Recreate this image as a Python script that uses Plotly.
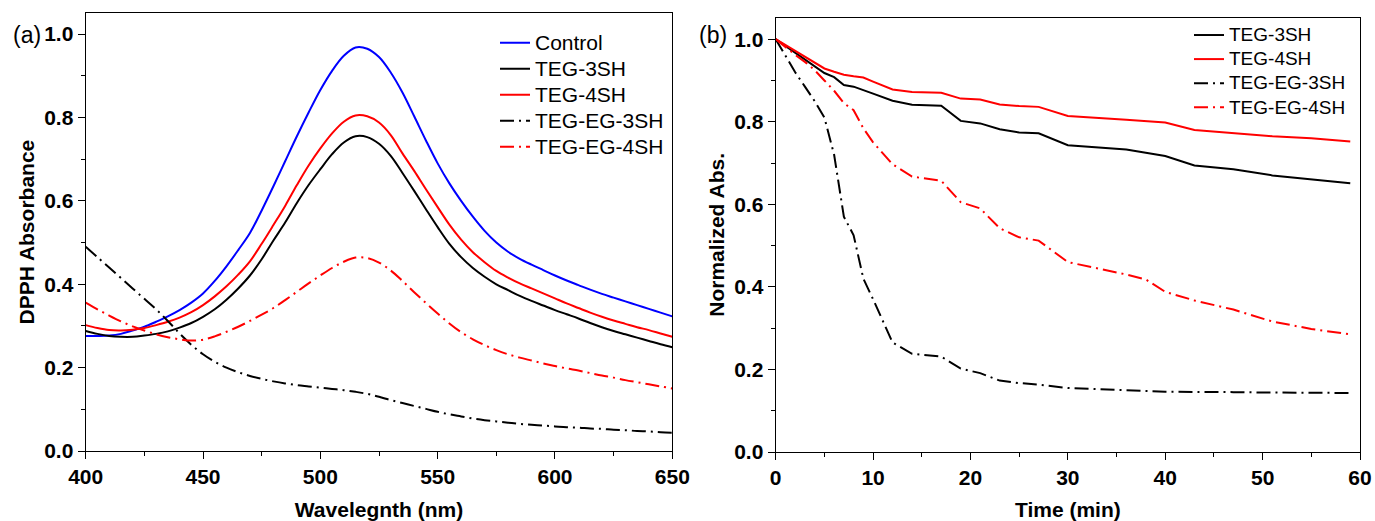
import plotly.graph_objects as go

# ---------------- data: panel (a) ----------------
wavelength = list(range(400, 651, 5))
control = [0.276, 0.276, 0.277, 0.281, 0.289, 0.298, 0.310, 0.323, 0.338, 0.356,
           0.378, 0.408, 0.443, 0.482, 0.523, 0.577, 0.635, 0.695, 0.755, 0.812,
           0.866, 0.912, 0.948, 0.968, 0.965, 0.945, 0.908, 0.860, 0.803, 0.745,
           0.690, 0.642, 0.600, 0.562, 0.528, 0.500, 0.478, 0.461, 0.447, 0.434,
           0.421, 0.409, 0.398, 0.387, 0.377, 0.368, 0.359, 0.350, 0.341, 0.332,
           0.323]
teg_3sh_a = [0.288, 0.281, 0.276, 0.274, 0.274, 0.277, 0.281, 0.287, 0.296, 0.307,
             0.322, 0.340, 0.363, 0.390, 0.421, 0.460, 0.505, 0.548, 0.595, 0.638,
             0.676, 0.712, 0.740, 0.755, 0.753, 0.737, 0.708, 0.667, 0.624, 0.580,
             0.537, 0.497, 0.465, 0.439, 0.418, 0.400, 0.386, 0.372, 0.360, 0.349,
             0.338, 0.328, 0.318, 0.307, 0.297, 0.288, 0.280, 0.272, 0.264, 0.256,
             0.249]
teg_4sh_a = [0.302, 0.295, 0.290, 0.289, 0.291, 0.295, 0.302, 0.310, 0.320, 0.333,
             0.350, 0.371, 0.395, 0.423, 0.455, 0.497, 0.542, 0.588, 0.638, 0.685,
             0.726, 0.762, 0.790, 0.805, 0.803, 0.788, 0.758, 0.714, 0.672, 0.628,
             0.585, 0.543, 0.507, 0.477, 0.453, 0.432, 0.416, 0.402, 0.390, 0.378,
             0.366, 0.354, 0.343, 0.332, 0.322, 0.313, 0.305, 0.297, 0.290, 0.282,
             0.274]
teg_eg_3sh_a = [0.490, 0.465, 0.440, 0.415, 0.390, 0.365, 0.340, 0.312, 0.282, 0.255,
                0.232, 0.214, 0.200, 0.189, 0.180, 0.173, 0.167, 0.162, 0.158, 0.155,
                0.152, 0.149, 0.146, 0.142, 0.137, 0.130, 0.122, 0.115, 0.108, 0.101,
                0.094, 0.088, 0.083, 0.078, 0.074, 0.071, 0.068, 0.065, 0.063, 0.061,
                0.059, 0.057, 0.056, 0.054, 0.053, 0.051, 0.050, 0.048, 0.047, 0.045,
                0.044]
teg_eg_4sh_a = [0.356, 0.340, 0.325, 0.311, 0.299, 0.289, 0.280, 0.273, 0.268, 0.265,
                0.267, 0.275, 0.286, 0.298, 0.312, 0.327, 0.343, 0.362, 0.382, 0.402,
                0.421, 0.439, 0.454, 0.464, 0.463, 0.452, 0.433, 0.408, 0.381, 0.355,
                0.330, 0.306, 0.285, 0.268, 0.254, 0.242, 0.232, 0.224, 0.217, 0.210,
                0.204, 0.198, 0.193, 0.187, 0.181, 0.176, 0.170, 0.165, 0.160, 0.155,
                0.150]

# ---------------- data: panel (b) ----------------
time_min = [0, 1, 2, 3, 4, 5, 6, 7, 8, 9, 10, 12, 14, 17, 19, 21, 23, 25, 27, 30,
            36, 38, 40, 43, 47, 51, 55, 59]
teg_3sh_b = [1.000, 0.984, 0.968, 0.951, 0.934, 0.918, 0.908, 0.889, 0.885, 0.876,
             0.868, 0.851, 0.841, 0.839, 0.802, 0.796, 0.782, 0.774, 0.772, 0.743,
             0.733, 0.725, 0.717, 0.694, 0.685, 0.670, 0.661, 0.651]
teg_4sh_b = [1.000, 0.986, 0.972, 0.957, 0.943, 0.929, 0.921, 0.914, 0.910, 0.907,
             0.897, 0.878, 0.872, 0.870, 0.856, 0.854, 0.842, 0.838, 0.836, 0.814,
             0.805, 0.801, 0.798, 0.780, 0.773, 0.765, 0.760, 0.752]
teg_eg_3sh_b = [1.000, 0.960, 0.920, 0.885, 0.850, 0.810, 0.720, 0.570, 0.525, 0.420,
                0.370, 0.265, 0.238, 0.231, 0.202, 0.191, 0.173, 0.167, 0.163, 0.155,
                0.151, 0.148, 0.146, 0.146, 0.145, 0.144, 0.143, 0.143]
teg_eg_4sh_b = [1.000, 0.980, 0.962, 0.945, 0.925, 0.900, 0.875, 0.845, 0.828, 0.784,
                0.750, 0.697, 0.667, 0.657, 0.605, 0.590, 0.542, 0.520, 0.512, 0.460,
                0.430, 0.418, 0.388, 0.367, 0.345, 0.316, 0.298, 0.285]

W, H = 1375, 521
FONT = "Arial, Liberation Sans, sans-serif"
DASHDOT = "14px,5px,2px,5px"

def px_x(p):
    return p / W

def px_y(p):
    return (H - p) / H

def legend_label(text, size):
    return f"<span style='font-size:{size}px'>{text}</span>"

fig = go.Figure()

left_specs = [
    ("Control", control, "#0000ff", "solid"),
    ("TEG-3SH", teg_3sh_a, "#000000", "solid"),
    ("TEG-4SH", teg_4sh_a, "#ff0000", "solid"),
    ("TEG-EG-3SH", teg_eg_3sh_a, "#000000", DASHDOT),
    ("TEG-EG-4SH", teg_eg_4sh_a, "#ff0000", DASHDOT),
]
for name, ys, color, dash in left_specs:
    fig.add_trace(go.Scatter(
        x=wavelength, y=ys, name=legend_label(name, 21), mode="lines",
        line=dict(color=color, width=2, dash=dash, shape="spline", smoothing=1.0),
        xaxis="x", yaxis="y", legend="legend"))

right_specs = [
    ("TEG-3SH", teg_3sh_b, "#000000", "solid"),
    ("TEG-4SH", teg_4sh_b, "#ff0000", "solid"),
    ("TEG-EG-3SH", teg_eg_3sh_b, "#000000", DASHDOT),
    ("TEG-EG-4SH", teg_eg_4sh_b, "#ff0000", DASHDOT),
]
for name, ys, color, dash in right_specs:
    fig.add_trace(go.Scatter(
        x=time_min, y=ys, name=legend_label(name, 19), mode="lines",
        line=dict(color=color, width=2, dash=dash),
        xaxis="x2", yaxis="y2", legend="legend2"))

TICK = 21
TITLE = 21
tickfont = dict(family=FONT, size=TICK, color="black", weight="bold")
titlefont = dict(family=FONT, size=TITLE, color="black", weight="bold")
minor_common = dict(ticks="outside", ticklen=4, tickwidth=1.3, tickcolor="black",
                    showgrid=False)

def axis_common(**kw):
    d = dict(showline=True, linecolor="black", linewidth=1.3, mirror=True,
             ticks="outside", ticklen=7, tickwidth=1.3, tickcolor="black",
             showgrid=False, zeroline=False, tickfont=tickfont, automargin=False)
    d.update(kw)
    return d

fig.update_layout(
    template="none",
    width=W, height=H, autosize=False,
    margin=dict(l=0, r=0, t=0, b=0, pad=0),
    paper_bgcolor="white", plot_bgcolor="white",
    font=dict(family=FONT, color="black"),
    xaxis=axis_common(domain=[px_x(85.7), px_x(672.3)], anchor="y",
                      range=[400, 650], tick0=400, dtick=50,
                      minor=dict(dtick=25, **minor_common),
                      title=dict(text="Wavelegnth (nm)", font=titlefont, standoff=14)),
    yaxis=axis_common(domain=[px_y(451), px_y(13.3)], anchor="x",
                      range=[0, 1.05], tick0=0, dtick=0.2, tickformat=".1f",
                      minor=dict(dtick=0.1, **minor_common),
                      title=dict(text="DPPH Absorbance", font=titlefont, standoff=3)),
    xaxis2=axis_common(domain=[px_x(775.7), px_x(1360)], anchor="y2",
                       range=[0, 60], tick0=0, dtick=10,
                       minor=dict(dtick=5, **minor_common),
                       title=dict(text="Time (min)", font=titlefont, standoff=14)),
    yaxis2=axis_common(domain=[px_y(452), px_y(17.7)], anchor="x2",
                       range=[0, 1.052], tick0=0, dtick=0.2, tickformat=".1f",
                       minor=dict(dtick=0.1, **minor_common),
                       title=dict(text="Normalized Abs.", font=titlefont, standoff=3)),
    legend=dict(x=px_x(495), y=px_y(24.7), xanchor="left", yanchor="top",
                bgcolor="rgba(0,0,0,0)", borderwidth=0,
                font=dict(family=FONT, size=17.7, color="black"),
                tracegroupgap=0),
    legend2=dict(x=px_x(1189), y=px_y(18), xanchor="left", yanchor="top",
                 bgcolor="rgba(0,0,0,0)", borderwidth=0,
                 font=dict(family=FONT, size=16.2, color="black"),
                 tracegroupgap=0),
    annotations=[
        dict(text="(a)", x=px_x(11), y=px_y(35), xref="paper", yref="paper",
             xanchor="left", yanchor="middle", showarrow=False,
             font=dict(family=FONT, size=23, color="black")),
        dict(text="(b)", x=px_x(697), y=px_y(35), xref="paper", yref="paper",
             xanchor="left", yanchor="middle", showarrow=False,
             font=dict(family=FONT, size=23, color="black")),
    ],
)

fig.write_html(
    "out.html",
    config={"displayModeBar": False},
    post_script=("document.body.style.margin='0';"
                 "document.body.style.padding='0';"
                 "document.documentElement.style.overflow='hidden';"),
)
